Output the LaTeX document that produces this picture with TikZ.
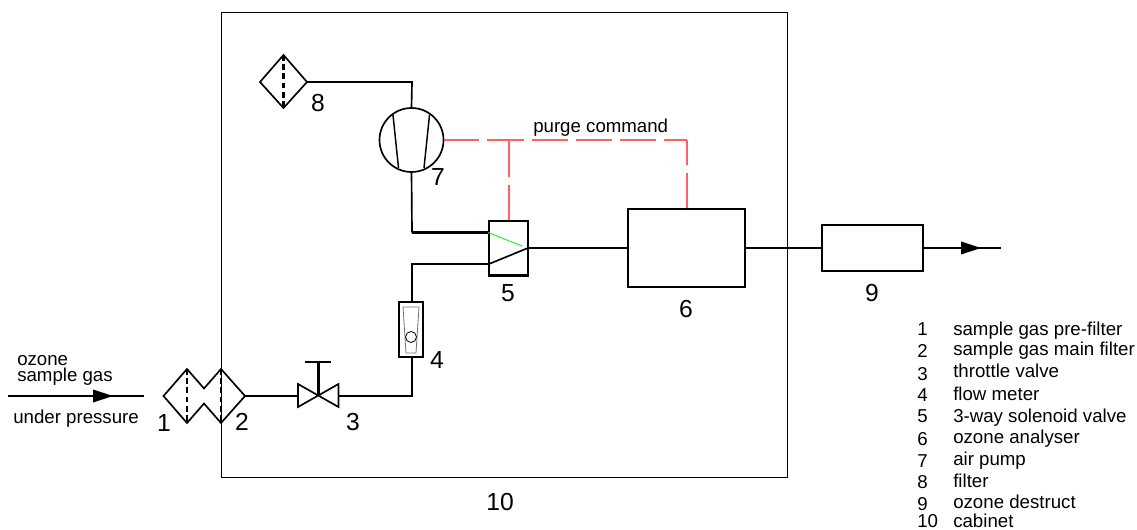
\documentclass[tikz,border=0pt]{standalone}
\usepackage{fontspec}
\setmainfont{Liberation Sans}
\usetikzlibrary{calc}
\def\pxu{0.75pt}
\definecolor{purgered}{RGB}{255,96,96}
\definecolor{valvegreen}{RGB}{40,230,40}
\tikzset{
  pipe/.style={line width=1.25pt,black,line join=miter},
  thickpipe/.style={line width=2pt,black},
  thinframe/.style={line width=0.6pt,black,draw,inner sep=0pt,minimum width=566*\pxu,minimum height=465*\pxu},
  unitbox/.style={draw,line width=1.35pt,inner sep=0pt},
  num/.style={font=\fontsize{18.5pt}{20pt}\selectfont,inner sep=0pt,anchor=center},
  lbl/.style={font=\fontsize{14pt}{16pt}\selectfont,inner sep=0pt,anchor=base west},
  purge/.style={line width=1pt,purgered},
  filterdash/.style={line width=1.4pt,dash pattern=on 4.3pt off 2.6pt},
  headtip/.style={fill=black,draw=none},
}
\begin{document}
\begin{tikzpicture}[x=0.75pt,y=-0.75pt]
\useasboundingbox (0,0) rectangle (1137,530);
% cabinet
\node[thinframe] (cabinet) at (504,244.5) {};
% boxes
\node[unitbox,minimum width=117*\pxu,minimum height=78*\pxu] (analyser) at (686.5,248) {};
\node[unitbox,minimum width=101*\pxu,minimum height=46*\pxu] (destruct) at (872.5,248) {};
\node[unitbox,minimum width=39*\pxu,minimum height=54*\pxu] (valve) at (508.5,248) {};
\node[draw,line width=1.25pt,circle,inner sep=0pt,minimum size=64*\pxu] (pump) at (411.5,140) {};
\node[unitbox,line width=1.25pt,minimum width=24*\pxu,minimum height=55*\pxu] (meter) at (411,329.5) {};
% filter 8
\coordinate (f8l) at (260,82); \coordinate (f8r) at (307,82);
\coordinate (f8t) at (283.5,55); \coordinate (f8b) at (283.5,108);
\draw[pipe] (f8l)--(f8t)--(f8r)--(f8b)--cycle;
\draw[filterdash,line width=1.8pt] (f8t)--(f8b);
% pump vanes
\draw[pipe,line width=1.1pt] (393,115)--(398.5,168);
\draw[pipe,line width=1.1pt] (429.5,115)--(424,168);
% filter 8 to pump
\coordinate (c87) at (412,82);
\draw[pipe] (f8r)--(c87)--(pump.north);
% pump to valve
\coordinate (vin1) at (valve.west|-0,232.5);
\coordinate (c75) at (412,232.5);
\draw[pipe] (pump.south)--(c75);
\draw[thickpipe] (c75)--(vin1);
% valve internals
\coordinate (vin2) at (489,264);
\coordinate (vout) at (528,248);
\draw[valvegreen,line width=0.7pt] (vin1)--(522,246);
\draw[pipe] (vin2)--(vout);
% bottom edge of valve is heavier
\draw[thickpipe,line width=1.6pt] (valve.south west)--(valve.south east);
% meter to valve
\coordinate (c45) at (412,264);
\draw[pipe] (meter.north-|c45)--(c45)--(vin2);
% flow meter internals
\draw[black!55,line width=0.6pt] (403,307)--(419,307)--(416,353)--(406,353)--cycle;
\node[draw,line width=0.6pt,circle,inner sep=0pt,minimum size=11*\pxu,fill=white] (ball) at (411,337) {};
% valve to analyser, analyser to destruct, outlet
\draw[pipe] (vout)--(analyser.west);
\draw[pipe] (analyser.east)--(destruct.west);
\coordinate (outend) at (1001,248);
\draw[pipe] (destruct.east)--(outend);
\fill[headtip] (961,241.5)--(981,248)--(961,254.5)--cycle;
% purge command
\coordinate (cornerR) at (687,140);
\coordinate (junc) at (509,140);
\draw[purge,dash pattern=on 26.25pt off 6pt on 27.5pt off 6pt on 27pt off 6pt on 27pt off 6pt on 27pt off 6pt on 40pt off 1pt] (pump.east)--(cornerR);
\draw[purge,dash pattern=on 18.75pt off 6pt on 40pt off 1pt] (cornerR)--(analyser.north-|cornerR);
\draw[purge,dash pattern=on 27.75pt off 6pt on 40pt off 1pt] (junc)--(valve.north-|junc);
% inlet
\coordinate (instart) at (8,396);
\coordinate (inend) at (144,396);
\draw[pipe] (instart)--(inend);
\fill[headtip] (93,389.5)--(113,396)--(93,402.5)--cycle;
% filters 1 and 2
\coordinate (f1l) at (163.5,396); \coordinate (f1t) at (187,369); \coordinate (f1b) at (187,423);
\coordinate (f2r) at (245,396); \coordinate (f2t) at (221,369); \coordinate (f2b) at (221,423);
\draw[pipe] (f1l)--(f1t)--(204,388.5)--(f2t)--(f2r)--(f2b)--(204,403.5)--(f1b)--cycle;
\draw[filterdash] (f1t)--(f1b);
\draw[filterdash] (f2t)--(f2b);
% throttle valve
\coordinate (tv) at (318.5,396);
\draw[pipe] (f2r)--(298,396);
\draw[pipe] (298,384)--(338.5,407)--(338.5,384)--(298,407)--cycle;
\draw[pipe,line width=1.7pt] (tv)--(318.5,362);
\draw[pipe] (305,362)--(331,362);
\coordinate (c34) at (412,396);
\draw[pipe] (338.5,396)--(c34)--(meter.south-|c34);
% numbers
\node[num] (n1) at (164,423) {1};
\node[num] (n2) at (242,422) {2};
\node[num] (n3) at (353,422) {3};
\node[num] (n4) at (437,360) {4};
\node[num] (n5) at (508,293) {5};
\node[num] (n6) at (686,309) {6};
\node[num] (n7) at (438,177) {7};
\node[num] (n8) at (318,103) {8};
\node[num] (n9) at (872,293) {9};
\node[num] (n10) at (500,502) {10};
% side labels
\node[lbl] (t1) at (17,365) {ozone};
\node[lbl] (t2) at (17,382) {sample gas};
\node[lbl] (t3) at (13,423) {under pressure};
\node[lbl] (t4) at (533,133) {purge command};
% legend
\foreach \n/\t/\yn/\yt in {1/sample gas pre-filter/336/336,2/sample gas main filter/358/356,3/throttle valve/380/378,4/flow meter/401/400,5/3-way solenoid valve/422/422,6/ozone analyser/445/443,7/air pump/467/465,8/filter/488/487,9/ozone destruct/510/508,10/cabinet/527.5/527.5}{
  \node[lbl] (legn\n) at (917,\yn) {\n};
  \node[lbl] (legt\n) at (953,\yt) {\t};
}
\end{tikzpicture}
\end{document}
